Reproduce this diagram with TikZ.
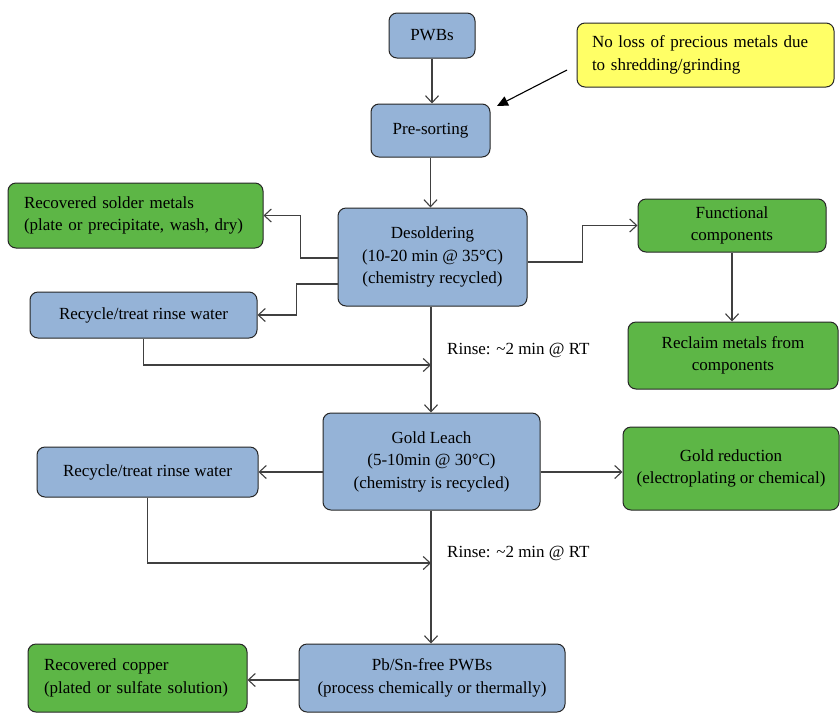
\documentclass[tikz,border=0pt]{standalone}
\usepackage{fontspec}
\setmainfont{LiberationSerif-Regular.ttf}
\newfontfamily\timesfont{LiberationSerif-Regular.ttf}
\usetikzlibrary{arrows.meta,calc}
\definecolor{boxblue}{HTML}{95B3D7}
\definecolor{boxgreen}{HTML}{5DB646}
\definecolor{boxyellow}{HTML}{FFFF66}
\definecolor{linegray}{HTML}{404040}
\definecolor{edgegray}{HTML}{262626}
\tikzset{
  base/.style={draw=edgegray, line width=1pt, rounded corners=8pt, rectangle,
    font=\timesfont\fontsize{17}{22.5}\selectfont, inner sep=2pt, text=black},
  bluebox/.style={base, fill=boxblue, align=center},
  greenbox/.style={base, fill=boxgreen, align=center},
  greenleft/.style={base, fill=boxgreen, align=left, inner xsep=16pt},
  notebox/.style={base, fill=boxyellow, align=left, inner xsep=15pt},
  arr/.style={draw=linegray, line width=1.1pt, -{Straight Barb[length=7pt,width=13pt]}},
  lbl/.style={font=\timesfont\fontsize{17}{22.5}\selectfont, anchor=west, inner sep=0pt}
}
\begin{document}
\begin{tikzpicture}[x=1pt,y=-1pt]
\useasboundingbox (0,0) rectangle (840,713);
\fill[white] (0,0) rectangle (840,713);

\node[bluebox, minimum width=86pt, minimum height=45pt] (pwb) at (432,35.5) {PWBs};
\node[notebox, text width=227pt, minimum height=64pt] (note) at (705.5,55) {No loss of precious metals due\\to shredding/grinding};
\node[bluebox, minimum width=119pt, minimum height=53pt] (pre) at (430.5,130.5) {Pre-sorting};
\node[bluebox, minimum width=189pt, minimum height=98pt] (des) at (432.5,257) {Desoldering\\(10-20 min @ 35°C)\\(chemistry recycled)};
\node[greenleft, text width=223pt, minimum height=65pt] (sold) at (135.5,215.5) {Recovered solder metals\\(plate or precipitate, wash, dry)};
\node[bluebox, minimum width=227pt, minimum height=46pt] (rec1) at (143.5,315) {Recycle/treat rinse water};
\node[greenbox, minimum width=188pt, minimum height=53pt] (func) at (732,225.5) {Functional\\components};
\node[greenbox, minimum width=210pt, minimum height=67pt] (recl) at (733,355.5) {Reclaim metals from\\components};
\node[bluebox, minimum width=217pt, minimum height=97pt] (gold) at (431.5,461.5) {Gold Leach\\(5-10min @ 30°C)\\(chemistry is recycled)};
\node[bluebox, minimum width=221pt, minimum height=50pt] (rec2) at (147.5,472) {Recycle/treat rinse water};
\node[greenbox, minimum width=216pt, minimum height=83pt] (red) at (731,468.5) {Gold reduction\\(electroplating or chemical)};
\node[bluebox, minimum width=266pt, minimum height=68pt] (pb) at (432,678) {Pb/Sn-free PWBs\\(process chemically or thermally)};
\node[greenleft, text width=187pt, minimum height=68pt] (cu) at (137.5,678) {Recovered copper\\(plated or sulfate solution)};

\node[lbl] (r1) at (447,350) {Rinse: \textasciitilde2 min @ RT};
\node[lbl] (r2) at (447,553) {Rinse: \textasciitilde2 min @ RT};

\coordinate (ns) at (567,70);
\coordinate (ne) at (497,106);
\coordinate (j1) at (431,365);
\coordinate (j2) at (431,563);

\draw[arr] (pwb.south) -- (pwb.south |- pre.north);
\draw[draw=black, line width=1.1pt, -{Triangle[length=11pt,width=10pt]}] (ns) -- (ne);
\draw[arr] (pre.south) -- (pre.south |- des.north);
\draw[arr] ([yshift=-1pt]des.west) -- ++(-37,0) |- (sold.east);
\draw[arr] ([yshift=-27pt]des.west) -- ++(-41,0) |- (rec1.east);
\draw[arr] ([yshift=-5pt]des.east) -- ++(55,0) |- (func.west);
\draw[arr] (func.south) -- (func.south |- recl.north);
\draw[arr] (rec1.south) |- (j1);
\draw[arr] (des.south -| j1) -- (j1 |- gold.north);
\draw[arr] (gold.west |- rec2.east) -- (rec2.east);
\draw[arr] (gold.east |- rec2.east) -- (red.west |- rec2.east);
\draw[arr] (rec2.south) |- (j2);
\draw[arr] (gold.south -| j2) -- (j2 |- pb.north);
\draw[arr] (pb.west |- 0,680) -- (cu.east |- 0,680);
\end{tikzpicture}
\end{document}
